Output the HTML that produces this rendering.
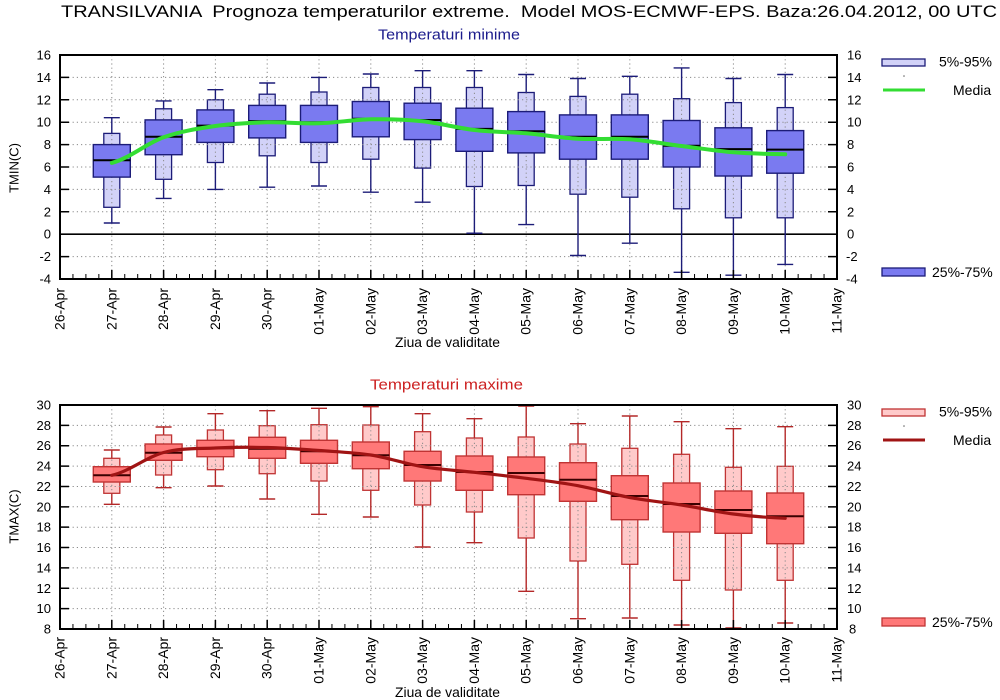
<!DOCTYPE html>
<html>
<head>
<meta charset="utf-8">
<style>
html,body{margin:0;padding:0;background:#fff;}
svg{display:block;}
text{font-family:"Liberation Sans",Arial,sans-serif;fill:#000;}
</style>
</head>
<body>
<svg width="1000" height="700" viewBox="0 0 1000 700" xmlns="http://www.w3.org/2000/svg">
<rect width="1000" height="700" fill="#fff"/>

<!-- Titles -->
<text x="61" y="17" font-size="17" textLength="936" lengthAdjust="spacingAndGlyphs" style="white-space:pre">TRANSILVANIA  Prognoza temperaturilor extreme.  Model MOS-ECMWF-EPS. Baza:26.04.2012, 00 UTC</text>
<text x="378" y="39.5" font-size="15" textLength="142" lengthAdjust="spacingAndGlyphs" style="fill:#1c1c8c">Temperaturi minime</text>
<text x="370" y="389.5" font-size="15" textLength="153" lengthAdjust="spacingAndGlyphs" style="fill:#cc2020">Temperaturi maxime</text>

<!-- ============ TOP CHART ============ -->
<!-- light boxes -->
<g fill="#d2d2f8" stroke="#1c1c78" stroke-width="1.3">
<rect x="103.8" y="133.4" width="16" height="73.9"/>
<rect x="155.6" y="108.8" width="16" height="70.5"/>
<rect x="207.4" y="99.8" width="16" height="62.7"/>
<rect x="259.2" y="94.2" width="16" height="61.6"/>
<rect x="311" y="92" width="16" height="70.5"/>
<rect x="362.8" y="87.5" width="16" height="71.7"/>
<rect x="414.6" y="87.5" width="16" height="80.6"/>
<rect x="466.4" y="87.5" width="16" height="99"/>
<rect x="518.2" y="92.5" width="16" height="93"/>
<rect x="570" y="96.4" width="16" height="97.8"/>
<rect x="621.8" y="94.2" width="16" height="103"/>
<rect x="673.6" y="98.7" width="16" height="110.1"/>
<rect x="725.4" y="102.6" width="16" height="115.2"/>
<rect x="777.2" y="107.6" width="16" height="110.2"/>
</g>
<!-- grid -->
<path d="M60,77.4H837M60,99.8H837M60,122.2H837M60,144.6H837M60,167H837M60,189.4H837M60,211.8H837M60,256.6H837
M111.8,55V279M163.6,55V279M215.4,55V279M267.2,55V279M319,55V279M370.8,55V279M422.6,55V279M474.4,55V279M526.2,55V279M578,55V279M629.8,55V279M681.6,55V279M733.4,55V279M785.2,55V279" stroke="#8a8a8a" stroke-width="1" stroke-dasharray="1.2 3" fill="none"/>
<!-- zero line -->
<path d="M60,234.2H837" stroke="#000" stroke-width="1.6"/>
<!-- whiskers -->
<path fill="none" stroke="#1c1c78" stroke-width="1.4" d="M111.8,117.7V133.4M111.8,207.3V223M103.8,117.7h16M103.8,223h16
M163.6,100.9V108.8M163.6,179.3V198.4M155.6,100.9h16M155.6,198.4h16
M215.4,89.7V99.8M215.4,162.5V189.4M207.4,89.7h16M207.4,189.4h16
M267.2,83V94.2M267.2,155.8V187.2M259.2,83h16M259.2,187.2h16
M319,77.4V92M319,162.5V186M311,77.4h16M311,186h16
M370.8,74V87.5M370.8,159.2V192.2M362.8,74h16M362.8,192.2h16
M422.6,70.7V87.5M422.6,168.1V202.2M414.6,70.7h16M414.6,202.2h16
M474.4,70.7V87.5M474.4,186.5V233.2M466.4,70.7h16M466.4,233.2h16
M526.2,74.5V92.5M526.2,185.5V224.6M518.2,74.5h16M518.2,224.6h16
M578,78.5V96.4M578,194.2V255.5M570,78.5h16M570,255.5h16
M629.8,76.3V94.2M629.8,197.2V243.2M621.8,76.3h16M621.8,243.2h16
M681.6,67.9V98.7M681.6,208.8V272.3M673.6,67.9h16M673.6,272.3h16
M733.4,78.5V102.6M733.4,217.8V275.2M725.4,78.5h16M725.4,275.2h16
M785.2,74.5V107.6M785.2,217.8V264.4M777.2,74.5h16M777.2,264.4h16"/>
<!-- dark boxes -->
<g fill="#7a7af0" stroke="#1c1c78" stroke-width="1.4">
<rect x="93.3" y="144.6" width="37" height="32.5"/>
<rect x="145.1" y="119.9" width="37" height="34.8"/>
<rect x="196.9" y="109.9" width="37" height="32.5"/>
<rect x="248.7" y="105.4" width="37" height="32.5"/>
<rect x="300.5" y="105.4" width="37" height="37"/>
<rect x="352.3" y="101.5" width="37" height="35.3"/>
<rect x="404.1" y="103.2" width="37" height="36.4"/>
<rect x="455.9" y="108.2" width="37" height="43.1"/>
<rect x="507.7" y="111.6" width="37" height="41.3"/>
<rect x="559.5" y="114.9" width="37" height="44.3"/>
<rect x="611.3" y="114.9" width="37" height="44.3"/>
<rect x="663.1" y="120.5" width="37" height="46.5"/>
<rect x="714.9" y="127.8" width="37" height="48.2"/>
<rect x="766.7" y="130.6" width="37" height="42.6"/>
</g>
<!-- medians -->
<path stroke="#000" stroke-width="2" fill="none" d="M93.3,160.3h37M145.1,136.8h37M196.9,125.6h37M248.7,121.1h37M300.5,122.2h37M352.3,118.8h37M404.1,120h37M455.9,128.9h37M507.7,131.2h37M559.5,136.8h37M611.3,136.8h37M663.1,145.7h37M714.9,149.1h37M766.7,149.6h37"/>
<!-- green median curve -->
<path fill="none" stroke="#33dd33" stroke-width="4" stroke-linecap="round" d="M111.8,162.9
C129.1,158.6 146.3,143.5 163.6,137.3
C180.9,131.2 198.1,128.5 215.4,126
C232.7,123.5 249.9,122.8 267.2,122.3
C284.5,121.9 301.7,123.8 319,123.3
C336.3,122.8 353.5,119.6 370.8,119.3
C388.1,119.0 405.3,119.5 422.6,121.3
C439.9,123.1 457.1,128.0 474.4,130
C491.7,132.0 508.9,131.9 526.2,133.3
C543.5,134.8 560.7,137.7 578,138.7
C595.3,139.7 612.5,138.1 629.8,139.3
C647.1,140.5 664.3,143.8 681.6,146
C698.9,148.2 716.1,150.9 733.4,152.3
C750.7,153.7 767.9,154.0 785.2,154.3"/>
<!-- ticks -->
<line x1="59.25" y1="274.5" x2="838" y2="274.5" stroke="#000" stroke-width="9" stroke-dasharray="1.5 50.3"/>
<line x1="59.5" y1="276.5" x2="838" y2="276.5" stroke="#000" stroke-width="5" stroke-dasharray="1 11.95"/>
<line x1="64.5" y1="54.25" x2="64.5" y2="280" stroke="#000" stroke-width="9" stroke-dasharray="1.5 20.9"/>
<line x1="832.5" y1="54.25" x2="832.5" y2="280" stroke="#000" stroke-width="9" stroke-dasharray="1.5 20.9"/>
<!-- frame -->
<rect x="60" y="55" width="777" height="224" fill="none" stroke="#000" stroke-width="2"/>
<!-- y labels -->
<g font-size="13" text-anchor="end">
<text x="51" y="59.5">16</text><text x="51" y="81.9">14</text><text x="51" y="104.3">12</text><text x="51" y="126.7">10</text><text x="51" y="149.1">8</text><text x="51" y="171.5">6</text><text x="51" y="193.9">4</text><text x="51" y="216.3">2</text><text x="51" y="238.7">0</text><text x="51" y="261.1">-2</text><text x="51" y="283.5">-4</text>
</g>
<g font-size="13">
<text x="847" y="59.5">16</text><text x="847" y="81.9">14</text><text x="847" y="104.3">12</text><text x="847" y="126.7">10</text><text x="847" y="149.1">8</text><text x="847" y="171.5">6</text><text x="847" y="193.9">4</text><text x="847" y="216.3">2</text><text x="847" y="238.7">0</text><text x="846" y="261.1">-2</text><text x="846" y="283.5">-4</text>
</g>
<text transform="translate(18.3,168) rotate(-90)" font-size="13" text-anchor="middle">TMIN(C)</text>
<!-- x labels -->
<g font-size="14" text-anchor="end">
<text transform="translate(64.5,288) rotate(-90)">26-Apr</text>
<text transform="translate(116.3,288) rotate(-90)">27-Apr</text>
<text transform="translate(168.1,288) rotate(-90)">28-Apr</text>
<text transform="translate(219.9,288) rotate(-90)">29-Apr</text>
<text transform="translate(271.7,288) rotate(-90)">30-Apr</text>
<text transform="translate(323.5,288) rotate(-90)">01-May</text>
<text transform="translate(375.3,288) rotate(-90)">02-May</text>
<text transform="translate(427.1,288) rotate(-90)">03-May</text>
<text transform="translate(478.9,288) rotate(-90)">04-May</text>
<text transform="translate(530.7,288) rotate(-90)">05-May</text>
<text transform="translate(582.5,288) rotate(-90)">06-May</text>
<text transform="translate(634.3,288) rotate(-90)">07-May</text>
<text transform="translate(686.1,288) rotate(-90)">08-May</text>
<text transform="translate(737.9,288) rotate(-90)">09-May</text>
<text transform="translate(789.7,288) rotate(-90)">10-May</text>
<text transform="translate(841.5,288) rotate(-90)">11-May</text>
</g>
<text x="395" y="347" font-size="14" textLength="105" lengthAdjust="spacingAndGlyphs">Ziua de validitate</text>
<!-- legend top -->
<rect x="882" y="59" width="43" height="7" fill="#d2d2f8" stroke="#1c1c78" stroke-width="1.3"/>
<text x="939" y="66.5" font-size="14">5%-95%</text>
<circle cx="904" cy="76" r="0.8" fill="#666"/>
<line x1="883" y1="90" x2="925" y2="90" stroke="#33dd33" stroke-width="3"/>
<text x="953" y="95" font-size="14">Media</text>
<rect x="882" y="268" width="43" height="8" fill="#7a7af0" stroke="#1c1c78" stroke-width="1.3"/>
<text x="932" y="277" font-size="14">25%-75%</text>

<!-- ============ BOTTOM CHART ============ -->
<g fill="#ffcaca" stroke="#c03434" stroke-width="1.3">
<rect x="103.8" y="458.3" width="16" height="35"/>
<rect x="155.6" y="435" width="16" height="40"/>
<rect x="207.4" y="430" width="16" height="39.7"/>
<rect x="259.2" y="425.7" width="16" height="48"/>
<rect x="311" y="424.7" width="16" height="56.3"/>
<rect x="362.8" y="425" width="16" height="65.3"/>
<rect x="414.6" y="431.7" width="16" height="73.3"/>
<rect x="466.4" y="438" width="16" height="74"/>
<rect x="518.2" y="437" width="16" height="101"/>
<rect x="570" y="444" width="16" height="117"/>
<rect x="621.8" y="448.3" width="16" height="116"/>
<rect x="673.6" y="454.3" width="16" height="126"/>
<rect x="725.4" y="467.3" width="16" height="122.7"/>
<rect x="777.2" y="466.3" width="16" height="114"/>
</g>
<path d="M60,425.4H837M60,445.7H837M60,466.1H837M60,486.5H837M60,506.8H837M60,527.2H837M60,547.5H837M60,567.9H837M60,588.3H837M60,608.6H837
M111.8,405V629M163.6,405V629M215.4,405V629M267.2,405V629M319,405V629M370.8,405V629M422.6,405V629M474.4,405V629M526.2,405V629M578,405V629M629.8,405V629M681.6,405V629M733.4,405V629M785.2,405V629" stroke="#8a8a8a" stroke-width="1" stroke-dasharray="1.2 3" fill="none"/>
<path fill="none" stroke="#b42828" stroke-width="1.4" d="M111.8,450V458.3M111.8,493.3V504.3M103.8,450h16M103.8,504.3h16
M163.6,427V435M163.6,475V487.7M155.6,427h16M155.6,487.7h16
M215.4,413.7V430M215.4,469.7V486M207.4,413.7h16M207.4,486h16
M267.2,410.7V425.7M267.2,473.7V499M259.2,410.7h16M259.2,499h16
M319,408.3V424.7M319,481V514.3M311,408.3h16M311,514.3h16
M370.8,406.7V425M370.8,490.3V517M362.8,406.7h16M362.8,517h16
M422.6,413.7V431.7M422.6,505V547M414.6,413.7h16M414.6,547h16
M474.4,418.7V438M474.4,512V542.7M466.4,418.7h16M466.4,542.7h16
M526.2,406V437M526.2,538V591.3M518.2,406h16M518.2,591.3h16
M578,423.7V444M578,561V618.7M570,423.7h16M570,618.7h16
M629.8,416V448.3M629.8,564.3V618M621.8,416h16M621.8,618h16
M681.6,421.7V454.3M681.6,580.3V625M673.6,421.7h16M673.6,625h16
M733.4,428.7V467.3M733.4,590V628M725.4,428.7h16M725.4,628h16
M785.2,426.7V466.3M785.2,580.3V623M777.2,426.7h16M777.2,623h16"/>
<g fill="#ff7878" stroke="#c03434" stroke-width="1.4">
<rect x="93.3" y="466.7" width="37" height="15.3"/>
<rect x="145.1" y="444" width="37" height="16.3"/>
<rect x="196.9" y="440.3" width="37" height="16.4"/>
<rect x="248.7" y="437.3" width="37" height="21"/>
<rect x="300.5" y="440.3" width="37" height="23"/>
<rect x="352.3" y="442" width="37" height="26.7"/>
<rect x="404.1" y="451.3" width="37" height="29.7"/>
<rect x="455.9" y="456" width="37" height="34.3"/>
<rect x="507.7" y="457" width="37" height="37.7"/>
<rect x="559.5" y="462.7" width="37" height="38.6"/>
<rect x="611.3" y="475.7" width="37" height="44"/>
<rect x="663.1" y="483" width="37" height="49"/>
<rect x="714.9" y="491" width="37" height="42.3"/>
<rect x="766.7" y="493" width="37" height="50.7"/>
</g>
<path stroke="#3a0000" stroke-width="2" fill="none" d="M93.3,475.3h37M145.1,452.7h37M196.9,448.3h37M248.7,448.7h37M300.5,451.3h37M352.3,455.3h37M404.1,465h37M455.9,472h37M507.7,473h37M559.5,479.7h37M611.3,496h37M663.1,504h37M714.9,510h37M766.7,516.3h37"/>
<path fill="none" stroke="#a01414" stroke-width="3.2" stroke-linecap="round" d="M111.8,475.3
C129.1,471.5 146.3,457.1 163.6,452.5
C180.9,447.9 198.1,448.8 215.4,448
C232.7,447.2 249.9,447.1 267.2,447.5
C284.5,447.9 301.7,449.3 319,450.5
C336.3,451.8 353.5,452.3 370.8,455
C388.1,457.7 405.3,463.8 422.6,466.7
C439.9,469.6 457.1,470.4 474.4,472.3
C491.7,474.2 508.9,476.1 526.2,478.3
C543.5,480.5 560.7,482.5 578,485.7
C595.3,488.9 612.5,494.3 629.8,497.5
C647.1,500.7 664.3,502.3 681.6,505
C698.9,507.8 716.1,511.8 733.4,514
C750.7,516.2 767.9,517.6 785.2,518.3"/>
<line x1="59.25" y1="624.5" x2="838" y2="624.5" stroke="#000" stroke-width="9" stroke-dasharray="1.5 50.3"/>
<line x1="59.5" y1="626.5" x2="838" y2="626.5" stroke="#000" stroke-width="5" stroke-dasharray="1 11.95"/>
<line x1="64.5" y1="404.25" x2="64.5" y2="630" stroke="#000" stroke-width="9" stroke-dasharray="1.5 18.8636"/>
<line x1="832.5" y1="404.25" x2="832.5" y2="630" stroke="#000" stroke-width="9" stroke-dasharray="1.5 18.8636"/>
<rect x="60" y="405" width="777" height="224" fill="none" stroke="#000" stroke-width="2"/>
<g font-size="13" text-anchor="end">
<text x="51" y="409.5">30</text><text x="51" y="429.9">28</text><text x="51" y="450.2">26</text><text x="51" y="470.6">24</text><text x="51" y="491">22</text><text x="51" y="511.3">20</text><text x="51" y="531.7">18</text><text x="51" y="552">16</text><text x="51" y="572.4">14</text><text x="51" y="592.8">12</text><text x="51" y="613.1">10</text><text x="51" y="633.5">8</text>
</g>
<g font-size="13">
<text x="847" y="409.5">30</text><text x="847" y="429.9">28</text><text x="847" y="450.2">26</text><text x="847" y="470.6">24</text><text x="847" y="491">22</text><text x="847" y="511.3">20</text><text x="847" y="531.7">18</text><text x="847" y="552">16</text><text x="847" y="572.4">14</text><text x="847" y="592.8">12</text><text x="847" y="613.1">10</text><text x="849" y="633.5">8</text>
</g>
<text transform="translate(18.3,516.5) rotate(-90)" font-size="13" text-anchor="middle">TMAX(C)</text>
<g font-size="14" text-anchor="end">
<text transform="translate(64.5,637) rotate(-90)">26-Apr</text>
<text transform="translate(116.3,637) rotate(-90)">27-Apr</text>
<text transform="translate(168.1,637) rotate(-90)">28-Apr</text>
<text transform="translate(219.9,637) rotate(-90)">29-Apr</text>
<text transform="translate(271.7,637) rotate(-90)">30-Apr</text>
<text transform="translate(323.5,637) rotate(-90)">01-May</text>
<text transform="translate(375.3,637) rotate(-90)">02-May</text>
<text transform="translate(427.1,637) rotate(-90)">03-May</text>
<text transform="translate(478.9,637) rotate(-90)">04-May</text>
<text transform="translate(530.7,637) rotate(-90)">05-May</text>
<text transform="translate(582.5,637) rotate(-90)">06-May</text>
<text transform="translate(634.3,637) rotate(-90)">07-May</text>
<text transform="translate(686.1,637) rotate(-90)">08-May</text>
<text transform="translate(737.9,637) rotate(-90)">09-May</text>
<text transform="translate(789.7,637) rotate(-90)">10-May</text>
<text transform="translate(841.5,637) rotate(-90)">11-May</text>
</g>
<text x="395" y="697" font-size="14" textLength="105" lengthAdjust="spacingAndGlyphs">Ziua de validitate</text>
<!-- legend bottom -->
<rect x="882" y="409" width="43" height="7" fill="#ffcaca" stroke="#c03434" stroke-width="1.3"/>
<text x="939" y="416.5" font-size="14">5%-95%</text>
<circle cx="904" cy="426" r="0.8" fill="#666"/>
<line x1="883" y1="440" x2="925" y2="440" stroke="#a01414" stroke-width="3"/>
<text x="953" y="445" font-size="14">Media</text>
<rect x="882" y="618" width="43" height="8" fill="#ff7878" stroke="#c03434" stroke-width="1.3"/>
<text x="932" y="627" font-size="14">25%-75%</text>
</svg>
</body>
</html>
